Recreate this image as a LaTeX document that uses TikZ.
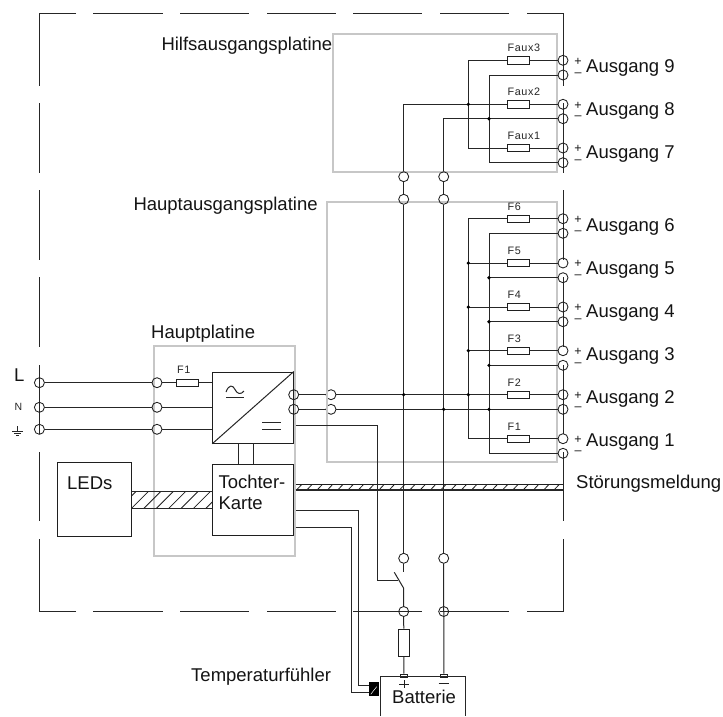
\documentclass[tikz,border=0pt]{standalone}
\usepackage{fontspec}
\setmainfont{Liberation Sans}
\newfontfamily\fusefont[LetterSpace=6]{Liberation Sans}
\tikzset{
  wire/.style={line width=1pt,draw=black!85},
  frameline/.style={line width=1pt,draw=black!85},
  board/.style={line width=1.8pt,draw=black!22},
  term/.style={circle,draw=black!88,line width=0.85pt,inner sep=0pt,minimum size=10pt},
  fusebox/.style={rectangle,draw=black!88,line width=0.85pt,inner sep=0pt,minimum width=22pt,minimum height=7.3pt},
  block/.style={rectangle,draw=black!88,line width=1pt,inner sep=0pt},
  big/.style={inner sep=0pt,anchor=base west,font=\fontsize{18.5}{20}\selectfont,text=black!92},
  tiny/.style={inner sep=0pt,anchor=base west,font=\fusefont\fontsize{10.8}{11}\selectfont,text=black!85},
  pm/.style={inner sep=0pt,anchor=base,font=\fontsize{12.5}{13}\selectfont,text=black!90},
  dotj/.style={circle,fill=black,inner sep=0pt,minimum size=3.6pt},
}
\begin{document}
\begin{tikzpicture}[x=1pt,y=-1pt]
\useasboundingbox (0,0) rectangle (723,716);
\fill[white] (0,0) rectangle (723,716);

% circles lying under the board outline
\node[term] (ho1) at (331,394.7) {};
\node[term] (ho2) at (331,409.3) {};

% boards
\draw[board] (332.7,34) rectangle (556.7,171.7);
\draw[board] (326.7,202) rectangle (556.7,461.7);
\draw[board] (154.3,346) rectangle (294.7,555.7);

% dashed enclosure
\foreach \a/\b in {93/163,180/249,267/336,353/422,440/509}{
  \draw[frameline] (\a,13) -- (\b,13);
  \draw[frameline] (\a,611.5) -- (\b,611.5);
}
\draw[frameline] (76,13) -- (39.5,13) -- (39.5,86);
\draw[frameline] (527,13) -- (563,13) -- (563,86);
\draw[frameline] (76,611.5) -- (39.5,611.5) -- (39.5,539);
\draw[frameline] (527,611.5) -- (563,611.5) -- (563,539);
\foreach \a/\b in {103/173,190/260,277/347,365/434,452/521}{
  \draw[frameline] (39.5,\a) -- (39.5,\b);
  \draw[frameline] (563,\a) -- (563,\b);
}

% outputs
\foreach \n/\yp/\ym/\lab/\base in {
  9/60.3/75/Faux3/72.5, 8/104.3/118.7/Faux2/115.5, 7/148/162.7/Faux1/158.5,
  6/218.7/233.3/F6/231.5, 5/263/277.7/F5/274.5, 4/307/321.7/F4/317.5,
  3/350.7/365.3/F3/360.5, 2/394.7/409.3/F2/403.5, 1/438.7/453.3/F1/446.5}{
  \node[term] (op\n) at (563,\yp) {};
  \node[term] (om\n) at (563,\ym) {};
  \node[fusebox] (fu\n) at (518.3,\yp) {};
  \pgfmathsetmacro{\ylab}{\yp-8.4}
  \pgfmathsetmacro{\yplus}{\yp+4.8}
  \pgfmathsetmacro{\yminus}{\ym+1}
  \node[tiny] (fl\n) at (507.3,\ylab) {\lab};
  \node[pm] (pl\n) at (578,\yplus) {+};
  \node[pm] (mi\n) at (578,\yminus) {–};
  \node[big] (au\n) at (586,\base) {Ausgang \n};
}

% buses
\coordinate (cp9) at (468.3,60.3);
\coordinate (cp7) at (468.3,148);
\coordinate (cm9) at (489,75);
\coordinate (cm7) at (489,162.7);
\coordinate (cp6) at (468.3,218.7);
\coordinate (cp1) at (468.3,438.7);
\coordinate (cm6) at (489,233.3);
\coordinate (cm1) at (489,453.3);
\coordinate (t8p) at (403.7,104.3);
\coordinate (t8m) at (443.7,118.7);

\node[term] (v1a) at (403.7,176.7) {};
\node[term] (v1b) at (403.7,199.3) {};
\node[term] (v2a) at (443.7,176.7) {};
\node[term] (v2b) at (443.7,199.3) {};
\node[term] (v1c) at (403.7,558.3) {};
\node[term] (v2c) at (443.7,558.3) {};
\node[term] (v1d) at (403.7,611.5) {};
\node[term] (v2d) at (443.7,611.5) {};
\coordinate (stub) at (403.7,571.7);

\draw[wire] (op9) -- (fu9) -- (cp9) -- (cp7) -- (fu7) -- (op7);
\draw[wire] (om9) -- (cm9) -- (cm7) -- (om7);
\draw[wire] (op8) -- (fu8) -- (t8p) -- (v1a);
\draw[wire] (om8) -- (t8m) -- (v2a);
\draw[wire] (v1a) -- (v1b) -- (v1c) -- (stub);
\draw[wire] (v2a) -- (v2b) -- (v2c);

\draw[wire] (op6) -- (fu6) -- (cp6) -- (cp1) -- (fu1) -- (op1);
\draw[wire] (om6) -- (cm6) -- (cm1) -- (om1);
\foreach \n/\yp/\ym in {5/263/277.7,4/307/321.7,3/350.7/365.3}{
  \coordinate (jp\n) at (468.3,\yp);
  \coordinate (jm\n) at (489,\ym);
  \draw[wire] (jp\n) -- (fu\n) -- (op\n);
  \draw[wire] (jm\n) -- (om\n);
  \node[dotj] (dp\n) at (jp\n) {};
  \node[dotj] (dm\n) at (jm\n) {};
}

% converter and daughter card
\node[block,minimum width=80.6pt,minimum height=71.3pt] (conv) at (253,407.65) {};
\node[block,minimum width=80.6pt,minimum height=71.3pt] (card) at (253,499.65) {};
\draw[wire] (conv.south west) -- (conv.north east);
\coordinate (a1) at (238.7,443.3);
\coordinate (a2) at (238.7,464);
\coordinate (b1) at (253.3,443.3);
\coordinate (b2) at (253.3,464);
\draw[wire] (a1) -- (a2);
\draw[wire] (b1) -- (b2);
\draw[wire] (226,392) .. controls (229,384) and (233,385) .. (235,389.5) .. controls (237,394) and (241,395) .. (244,391);
\draw[wire] (226,397.3) -- (244,397.3);
\draw[wire] (262.3,422.3) -- (280.7,422.3);
\draw[wire] (262.3,429) -- (280.7,429);
\node[big] (tk1) at (218.3,488.3) {Tochter-};
\node[big] (tk2) at (218.3,509.3) {Karte};

% converter outputs
\node[term] (cv1) at (293.7,394.7) {};
\node[term] (cv2) at (293.7,409.3) {};
\draw[wire] (cv1) -- (ho1);
\draw[wire] (cv2) -- (ho2);
\draw[wire] (ho1) -- (fu2) -- (op2);
\draw[wire] (ho2) -- (om2);
\foreach \x/\y/\nm in {403.7/394.7/a,468.3/394.7/b,443.7/409.3/c,489/409.3/d,468.3/104.3/e,489/118.7/f}{
  \node[dotj] (dj\nm) at (\x,\y) {};
}

% mains input
\node[term] (tl) at (39.4,382.7) {};
\node[term] (tn) at (39.4,407.3) {};
\node[term] (tg) at (39.4,429.3) {};
\node[term] (il) at (157,382.7) {};
\node[term] (in) at (157,407.3) {};
\node[term] (ig) at (157,429.3) {};
\node[fusebox] (fl) at (187.3,382.7) {};
\node[tiny] (fll) at (177,373) {F1};
\draw[wire] (tl) -- (il);
\draw[wire] (tn) -- (in);
\draw[wire] (tg) -- (ig);
\draw[wire] (il) -- (fl) -- (fl -| conv.west);
\draw[wire] (in) -- (in -| conv.west);
\draw[wire] (ig) -- (ig -| conv.west);
\node[big] (ll) at (14,381.7) {L};
\node[inner sep=0pt,anchor=base west,font=\fontsize{10.5}{11}\selectfont,text=black!85] (nn) at (14.5,410.7) {N};
\draw[wire] (17.4,426) -- (17.4,431.7);
\draw[wire] (12.3,431.7) -- (22.7,431.7);
\draw[wire] (14.3,433.5) -- (20.5,433.5);
\draw[line width=0.7pt,black!85] (16.2,435) -- (18.6,435);

% LEDs and ribbon cable
\node[block,minimum width=74pt,minimum height=74pt] (leds) at (94.3,499) {};
\node[big] (ledt) at (67,489) {LEDs};
\begin{scope}
\clip (131.3,491.3) rectangle (212.7,508.7);
\foreach \k in {0,...,7}{
  \draw[line width=0.8pt,black!88] ({118.8+\k*12.4},508.7) -- ({136.2+\k*12.4},491.3);
}
\end{scope}
\coordinate (r1) at (131.3,491.3);
\coordinate (r2) at (212.7,491.3);
\coordinate (r3) at (131.3,508.7);
\coordinate (r4) at (212.7,508.7);
\draw[wire] (r1) -- (r2);
\draw[wire,line width=1.2pt] (r3) -- (r4);

% fault signal
\coordinate (s1) at (295.7,484.7);
\coordinate (s2) at (563,484.7);
\coordinate (s3) at (295.7,490);
\coordinate (s4) at (563,490);
\foreach \k in {0,...,25}{
  \draw[line width=0.8pt,black!88] ({296.5+\k*10.3},490) -- ({301.5+\k*10.3},484.7);
}
\draw[line width=0.7pt,black!88] (s1) -- (s2);
\draw[wire,line width=1.2pt] (s3) -- (s4);
\node[big] (st) at (576,488.3) {Störungsmeldung};

% labels
\node[big] (hi) at (161.3,50) {Hilfsausgangsplatine};
\node[big] (ha) at (133.3,210) {Hauptausgangsplatine};
\node[big] (hp) at (151,338) {Hauptplatine};
\node[big] (te) at (191,681.7) {Temperaturfühler};

% switch
\coordinate (w0) at (295.7,425.7);
\coordinate (w1) at (377.3,425.7);
\coordinate (w2) at (377.3,580.3);
\coordinate (w3) at (398.3,580.3);
\coordinate (w4) at (394.3,572.3);
\coordinate (w5) at (403.7,588.3);
\draw[wire] (w0) -- (w1) -- (w2) -- (w3);
\draw[wire] (w4) -- (w5) -- (v1d);

% battery
\node[fusebox,minimum width=11pt,minimum height=27.3pt] (fb) at (403.8,642.6) {};
\node[fusebox,minimum width=7.7pt,minimum height=3pt] (bt1) at (403.8,675.5) {};
\node[fusebox,minimum width=7.7pt,minimum height=3pt] (bt2) at (443.8,675.5) {};
\draw[wire] (v1d) -- (fb) -- (bt1);
\draw[wire] (v2c) -- (bt2);
\draw[wire] (380.7,716) -- (380.7,676.7) -- (465.3,676.7) -- (465.3,716);
\node[big] (ba) at (392,703.3) {Batterie};
\draw[line width=0.8pt,black!88] (399,684) -- (409,684);
\draw[line width=0.8pt,black!88] (404,680) -- (404,687.5);
\draw[line width=0.8pt,black!88] (438.7,683) -- (448.7,683);

% temperature sensor
\node[rectangle,fill=black,inner sep=0pt,minimum width=9.7pt,minimum height=13.4pt] (sens) at (373.85,689) {};
\draw[white,line width=0.5pt] (370.7,694.3) -- (376.7,686.7);
\coordinate (q0) at (295.7,510);
\coordinate (q1) at (358.7,510);
\coordinate (q2) at (358.7,685.7);
\coordinate (q3) at (369,685.7);
\coordinate (p0) at (295.7,527.7);
\coordinate (p1) at (351.3,527.7);
\coordinate (p2) at (351.3,692.7);
\coordinate (p3) at (369,692.7);
\draw[wire] (q0) -- (q1) -- (q2) -- (q3);
\draw[wire] (p0) -- (p1) -- (p2) -- (p3);
\end{tikzpicture}
\end{document}
